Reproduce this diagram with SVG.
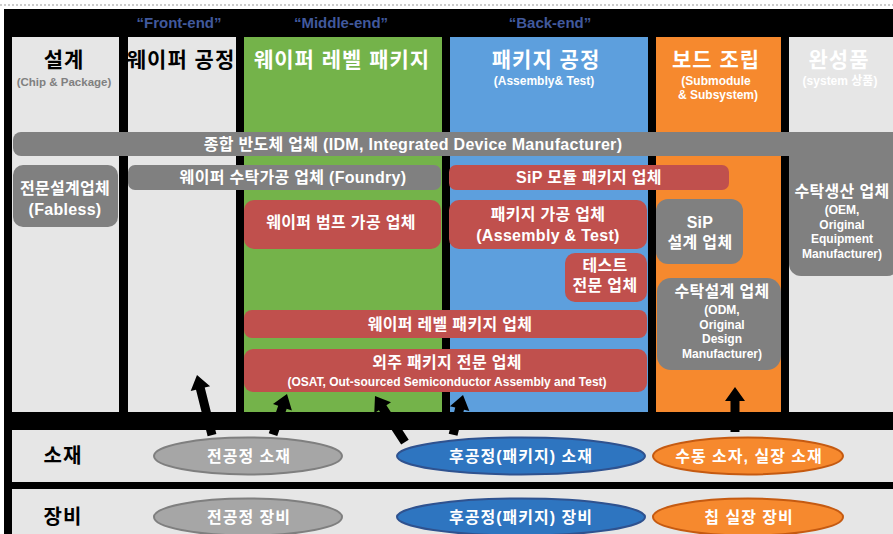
<svg xmlns="http://www.w3.org/2000/svg" width="893" height="534" viewBox="0 0 893 534">
  <style>
    text { font-family: "Liberation Sans", "Noto Sans CJK KR", sans-serif; font-weight: bold; text-anchor: middle; }
    .phase { font-size: 15px; fill: #41599C; }
    .title { font-size: 21px; letter-spacing: 1px; }
    .sub { font-size: 12px; }
    .bar { font-size: 16px; fill: #fff; letter-spacing: 0.3px; }
    .small { font-size: 12px; fill: #fff; }
    .red { fill: #C0504D; }
    .gray { fill: #808080; }
    .oval { font-size: 16px; fill: #fff; letter-spacing: 1px; }
    .rowlabel { font-size: 20px; fill: #000; letter-spacing: 1px; }
    .arrow { fill: #000; }
  </style>

  <!-- page frame -->
  <rect x="0" y="0" width="893" height="534" fill="#fff"/>
  <line x1="0" y1="5" x2="893" y2="5" stroke="#9a9a9a" stroke-width="1.2" stroke-dasharray="2,2"/>
  <rect x="4" y="9" width="889" height="525" fill="#000"/>

  <!-- phase headings -->
  <g id="phases">
    <text class="phase" x="179" y="28">“Front-end”</text>
    <text class="phase" x="341" y="28">“Middle-end”</text>
    <text class="phase" x="550" y="28">“Back-end”</text>
  </g>

  <!-- process columns -->
  <g id="col-design">
    <rect x="12" y="37" width="107" height="375" fill="#E6E6E6"/>
    <text class="title" x="64" y="67" fill="#000">설계</text>
    <text class="sub" x="64" y="86" fill="#808080" style="font-size:11.5px">(Chip &amp; Package)</text>
  </g>
  <g id="col-wafer">
    <rect x="128" y="37" width="108" height="375" fill="#E6E6E6"/>
    <text class="title" x="181" y="67" fill="#000">웨이퍼 공정</text>
  </g>
  <g id="col-wlp">
    <rect x="244" y="37" width="198" height="375" fill="#74B34A"/>
    <text class="title" x="342" y="67" fill="#fff">웨이퍼 레벨 패키지</text>
  </g>
  <g id="col-package">
    <rect x="450" y="37" width="198" height="375" fill="#5D9FDD"/>
    <text class="title" x="546" y="67" fill="#fff">패키지 공정</text>
    <text class="sub" x="544" y="85" fill="#fff">(Assembly&amp; Test)</text>
  </g>
  <g id="col-board">
    <rect x="656" y="37" width="125" height="375" fill="#F6892E"/>
    <text class="title" x="716" y="67" fill="#fff">보드 조립</text>
    <text class="sub" x="716" y="85" fill="#fff">(Submodule</text>
    <text class="sub" x="718" y="99" fill="#fff">&amp; Subsystem)</text>
  </g>
  <g id="col-product">
    <rect x="789" y="37" width="104" height="375" fill="#E6E6E6"/>
    <text class="title" x="839" y="67" fill="#fff">완성품</text>
    <text class="sub" x="840" y="85" fill="#fff">(system 상품)</text>
  </g>

  <!-- company types -->
  <g id="idm">
    <rect class="gray" x="13" y="132" width="890" height="24" rx="8"/>
    <text class="bar" x="413" y="150">종합 반도체 업체 (IDM, Integrated Device Manufacturer)</text>
  </g>
  <g id="oem">
    <rect class="gray" x="789" y="140" width="110" height="136" rx="12"/>
    <text class="bar" x="842" y="197">수탁생산 업체</text>
    <text class="small" x="842" y="214">(OEM,</text>
    <text class="small" x="842" y="228.5">Original</text>
    <text class="small" x="842" y="243">Equipment</text>
    <text class="small" x="842" y="257.5">Manufacturer)</text>
  </g>
  <g id="fabless">
    <rect class="gray" x="13" y="165" width="105" height="62" rx="10"/>
    <text class="bar" x="65" y="194">전문설계업체</text>
    <text class="bar" x="65" y="215">(Fabless)</text>
  </g>
  <g id="foundry">
    <rect class="gray" x="128" y="165" width="313" height="25" rx="7"/>
    <text class="bar" x="293" y="183">웨이퍼 수탁가공 업체 (Foundry)</text>
  </g>
  <g id="bump">
    <rect class="red" x="244" y="200" width="197" height="49" rx="10"/>
    <text class="bar" x="341" y="228">웨이퍼 범프 가공 업체</text>
  </g>
  <g id="sip-module">
    <rect class="red" x="449" y="165" width="280" height="25" rx="7"/>
    <text class="bar" x="589" y="183">SiP 모듈 패키지 업체</text>
  </g>
  <g id="assembly">
    <rect class="red" x="449" y="200" width="198" height="49" rx="10"/>
    <text class="bar" x="548" y="220">패키지 가공 업체</text>
    <text class="bar" x="548" y="241">(Assembly &amp; Test)</text>
  </g>
  <g id="sip-design">
    <rect class="gray" x="656" y="199" width="87" height="65" rx="12"/>
    <text class="bar" x="700" y="228">SiP</text>
    <text class="bar" x="700" y="248">설계 업체</text>
  </g>
  <g id="test">
    <rect class="red" x="565" y="253" width="82" height="49" rx="10"/>
    <text class="bar" x="605" y="271">테스트</text>
    <text class="bar" x="605" y="291">전문 업체</text>
  </g>
  <g id="odm">
    <rect class="gray" x="657" y="278" width="124" height="92" rx="14"/>
    <text class="bar" x="722" y="297">수탁설계 업체</text>
    <text class="small" x="722" y="314">(ODM,</text>
    <text class="small" x="722" y="328.5">Original</text>
    <text class="small" x="722" y="343">Design</text>
    <text class="small" x="722" y="357.5">Manufacturer)</text>
  </g>
  <g id="wlp-company">
    <rect class="red" x="244" y="310" width="403" height="28" rx="8"/>
    <text class="bar" x="450" y="330">웨이퍼 레벨 패키지 업체</text>
  </g>
  <g id="osat">
    <rect class="red" x="244" y="349" width="403" height="43" rx="9"/>
    <text class="bar" x="447" y="368">외주 패키지 전문 업체</text>
    <text class="sub" x="447" y="386" fill="#fff">(OSAT, Out-sourced Semiconductor Assembly and Test)</text>
  </g>

  <!-- supply rows -->
  <g id="row-material">
    <rect x="12" y="430" width="881" height="52" fill="#E6E6E6"/>
    <text class="rowlabel" x="63" y="463">소재</text>
  </g>
  <g id="row-equipment">
    <rect x="12" y="489" width="881" height="45" fill="#E6E6E6"/>
    <text class="rowlabel" x="63" y="524">장비</text>
  </g>

  <g id="fe-material">
    <ellipse cx="248" cy="456" rx="94" ry="18.5" fill="#A6A6A6" stroke="#7F7F7F" stroke-width="2"/>
    <text class="oval" x="249" y="462">전공정 소재</text>
  </g>
  <g id="be-material">
    <ellipse cx="521" cy="456" rx="124" ry="18.5" fill="#2E75C0" stroke="#2F528F" stroke-width="2"/>
    <text class="oval" x="521" y="462">후공정(패키지) 소재</text>
  </g>
  <g id="smt-material">
    <ellipse cx="748" cy="456" rx="95" ry="18.5" fill="#F6892E" stroke="#C55A11" stroke-width="2"/>
    <text class="oval" x="749" y="462">수동 소자, 실장 소재</text>
  </g>
  <g id="fe-equipment">
    <ellipse cx="248" cy="517" rx="94" ry="18.5" fill="#A6A6A6" stroke="#7F7F7F" stroke-width="2"/>
    <text class="oval" x="249" y="523">전공정 장비</text>
  </g>
  <g id="be-equipment">
    <ellipse cx="521" cy="517" rx="124" ry="18.5" fill="#2E75C0" stroke="#2F528F" stroke-width="2"/>
    <text class="oval" x="521" y="523">후공정(패키지) 장비</text>
  </g>
  <g id="smt-equipment">
    <ellipse cx="748" cy="517" rx="95" ry="18.5" fill="#F6892E" stroke="#C55A11" stroke-width="2"/>
    <text class="oval" x="749" y="523">칩 실장 장비</text>
  </g>

  <!-- supply arrows: tip at the translated origin, shaft running back along +y -->
  <g id="connectors">
    <path class="arrow" transform="translate(197,375) rotate(-14)" d="M0,0 L10,14 L4.5,14 L4.5,62 L-4.5,62 L-4.5,14 L-10,14 Z"/>
    <path class="arrow" transform="translate(287,394) rotate(19)" d="M0,0 L10,14 L4.5,14 L4.5,43 L-4.5,43 L-4.5,14 L-10,14 Z"/>
    <path class="arrow" transform="translate(375,396) rotate(-33)" d="M0,0 L10,14 L4.5,14 L4.5,55 L-4.5,55 L-4.5,14 L-10,14 Z"/>
    <path class="arrow" transform="translate(463,395) rotate(14)" d="M0,0 L10,14 L4.5,14 L4.5,41 L-4.5,41 L-4.5,14 L-10,14 Z"/>
    <path class="arrow" transform="translate(735,387)" d="M0,0 L10,14 L4.5,14 L4.5,45 L-4.5,45 L-4.5,14 L-10,14 Z"/>
  </g>
</svg>
